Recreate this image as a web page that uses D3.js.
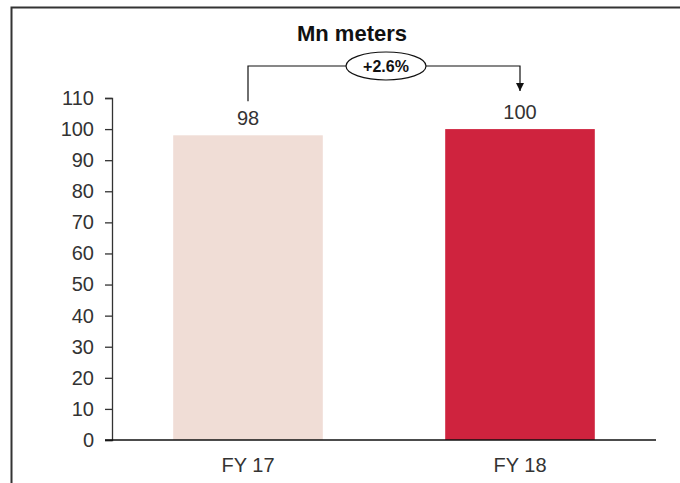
<!DOCTYPE html>
<html lang="en">
<head>
<meta charset="utf-8">
<title>Mn meters</title>
<script src="https://cdn.jsdelivr.net/npm/d3@7"></script>
<style>
  body { margin: 0; background: #fff; }
  text { font-family: "Liberation Sans", Arial, sans-serif; }
</style>
</head>
<body>
<script>
// chart data
var categories = ["FY 17", "FY 18"];
var values = [98, 100];
var barColors = ["#f0ddd6", "#cf233e"];
var yTicks = [0, 10, 20, 30, 40, 50, 60, 70, 80, 90, 100, 110];
var growthLabel = "+2.6%";
var title = "Mn meters";

var w = 680, h = 483;

var svg = d3.select("body").append("svg")
  .attr("width", w)
  .attr("height", h);

// outer frame (top and left edges visible)
svg.append("path")
  .attr("d", "M11.5,483 V7.5 H680")
  .attr("fill", "none")
  .attr("stroke", "#333")
  .attr("stroke-width", 2);

// scales
var x = d3.scaleBand().domain(categories).range([112, 656]).padding(0);
var y = d3.scaleLinear().domain([0, 110]).range([440, 98]);
var barW = x.bandwidth() * 0.55;

// bars
svg.selectAll("rect.bar")
  .data(values)
  .enter().append("rect")
  .attr("class", "bar")
  .attr("x", function(d, i) { return x(categories[i]) + (x.bandwidth() - barW) / 2; })
  .attr("y", function(d) { return y(d); })
  .attr("width", barW)
  .attr("height", function(d) { return y(0) - y(d); })
  .attr("fill", function(d, i) { return barColors[i]; });

// y axis
var yAxis = svg.append("g")
  .attr("transform", "translate(112,0)")
  .call(d3.axisLeft(y).tickValues(yTicks).tickSize(7).tickPadding(11));
yAxis.selectAll("path, line").attr("stroke", "#333").attr("stroke-width", 1.3);
yAxis.selectAll("text").attr("font-size", 20).attr("fill", "#333")
  .style("font-family", "'Liberation Sans', Arial, sans-serif");

// x axis line
svg.append("line")
  .attr("x1", 105).attr("x2", 656)
  .attr("y1", y(0)).attr("y2", y(0))
  .attr("stroke", "#111").attr("stroke-width", 1.5);

// category labels
svg.selectAll("text.cat")
  .data(categories)
  .enter().append("text")
  .attr("class", "cat")
  .attr("x", function(d) { return x(d) + x.bandwidth() / 2; })
  .attr("y", 472)
  .attr("text-anchor", "middle")
  .attr("font-size", 20)
  .attr("fill", "#333")
  .text(function(d) { return d; });

// value labels
svg.selectAll("text.val")
  .data(values)
  .enter().append("text")
  .attr("class", "val")
  .attr("x", function(d, i) { return x(categories[i]) + x.bandwidth() / 2; })
  .attr("y", function(d) { return y(d) - 10; })
  .attr("text-anchor", "middle")
  .attr("font-size", 20)
  .attr("fill", "#333")
  .text(function(d) { return d; });

// title
svg.append("text")
  .attr("x", 352).attr("y", 41)
  .attr("text-anchor", "middle")
  .attr("font-size", 22)
  .attr("font-weight", "bold")
  .attr("fill", "#111")
  .text(title);

// growth bracket
var cx1 = x(categories[0]) + x.bandwidth() / 2;
var cx2 = x(categories[1]) + x.bandwidth() / 2;
var by = 66;

svg.append("defs").append("marker")
  .attr("id", "arrow")
  .attr("viewBox", "0 0 10 10")
  .attr("refX", 10).attr("refY", 5)
  .attr("markerWidth", 8).attr("markerHeight", 8)
  .attr("markerUnits", "userSpaceOnUse")
  .attr("orient", "auto")
  .append("path")
  .attr("d", "M0,0 L10,5 L0,10 Z")
  .attr("fill", "#111");

svg.append("path")
  .attr("d", "M" + cx1 + "," + (y(values[0]) - 34) + " V" + by + " H" + cx2 + " V" + (y(values[1]) - 38))
  .attr("fill", "none")
  .attr("stroke", "#111")
  .attr("stroke-width", 1.2)
  .attr("marker-end", "url(#arrow)");

svg.append("ellipse")
  .attr("cx", 386).attr("cy", by)
  .attr("rx", 40).attr("ry", 14)
  .attr("fill", "#fff")
  .attr("stroke", "#111")
  .attr("stroke-width", 1.2);

svg.append("text")
  .attr("x", 386).attr("y", by + 6)
  .attr("text-anchor", "middle")
  .attr("font-size", 16)
  .attr("font-weight", "bold")
  .attr("fill", "#111")
  .text(growthLabel);
</script>
</body>
</html>
